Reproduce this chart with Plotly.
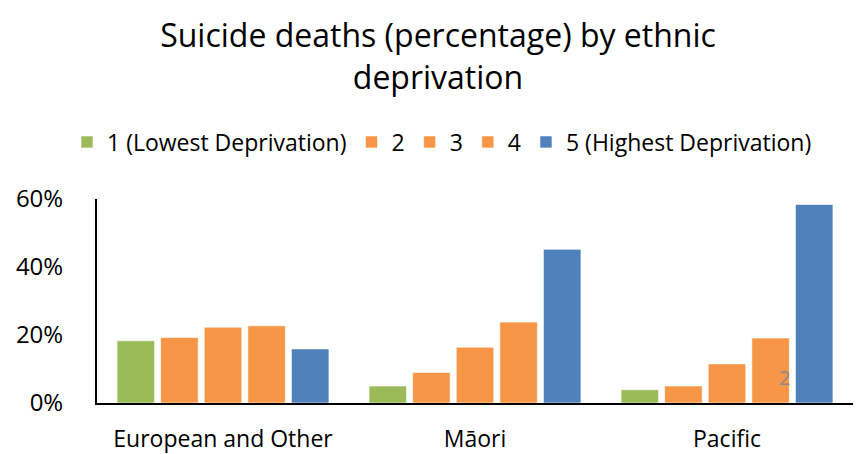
import plotly.graph_objects as go

categories = ["European and Other", "Māori", "Pacific"]
series_names = ["1 (Lowest Deprivation)", "2", "3", "4", "5 (Highest Deprivation)"]
dep1 = [18.3, 5.0, 3.9]
dep2 = [19.3, 9.0, 5.0]
dep3 = [22.3, 16.4, 11.5]
dep4 = [22.7, 23.8, 19.1]
dep5 = [15.9, 45.2, 58.4]
series_values = [dep1, dep2, dep3, dep4, dep5]
colors = ["#9BBB59", "#F79646", "#F79646", "#F79646", "#4F81BD"]
y_ticks = [0, 20, 40, 60]
y_tick_labels = ["0%", "20%", "40%", "60%"]

FONT = "Open Sans"

fig = go.Figure()
for name, vals, col in zip(series_names, series_values, colors):
    fig.add_trace(go.Bar(
        x=categories, y=vals, name=name,
        marker=dict(color=col, line=dict(color="rgba(255,255,255,0.6)", width=1)),
    ))

fig.update_layout(
    width=863, height=454,
    paper_bgcolor="white", plot_bgcolor="white",
    margin=dict(l=97, r=10, t=199, b=51, autoexpand=False),
    barmode="group", bargap=0.135, bargroupgap=0.14,
    font=dict(family=FONT, color="#000000"),
    title=dict(
        text="Suicide deaths (percentage) by ethnic<br>deprivation",
        x=438/863, xanchor="center", y=1-47/454, yanchor="middle",
        xref="container", yref="container",
        font=dict(family=FONT, size=32, color="#000000"),
    ),
    legend=dict(
        orientation="h", xref="container", yref="container",
        x=442/863, xanchor="center", y=1-142/454, yanchor="middle",
        font=dict(family=FONT, size=23), itemwidth=30, traceorder="normal",
        tracegroupgap=0,
    ),
    showlegend=True,
)
fig.update_xaxes(
    showline=True, linecolor="#000000", linewidth=2, showgrid=False,
    ticks="", tickfont=dict(family=FONT, size=23), ticklabelstandoff=14,
    automargin=False,
)
fig.update_yaxes(
    range=[0, 60], tickvals=y_ticks, ticktext=y_tick_labels,
    showline=True, linecolor="#000000", linewidth=2, showgrid=False,
    zeroline=False, ticks="", tickfont=dict(family=FONT, size=24),
    ticklabelstandoff=27, automargin=False,
)
fig.add_annotation(
    x="Pacific", y=7.5, text="2", showarrow=False, xshift=57,
    font=dict(family=FONT, size=20, color="#8A8A8A"),
)
fig.write_html(
    "out.html",
    config={"displayModeBar": False},
    post_script="document.body.style.margin='0';document.body.style.padding='0';",
)
